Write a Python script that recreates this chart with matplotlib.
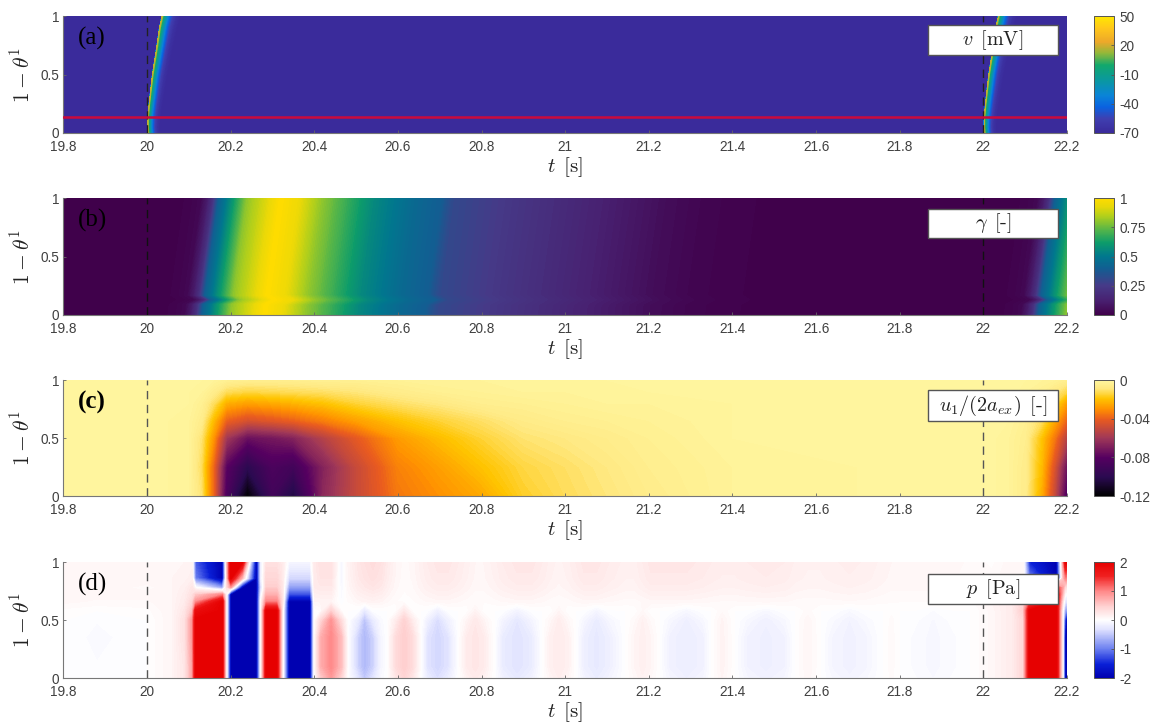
import numpy as np
import matplotlib
matplotlib.use('Agg')
import matplotlib.pyplot as plt
from matplotlib.cm import ScalarMappable
from matplotlib.colors import LinearSegmentedColormap, Normalize
from matplotlib.patches import Rectangle

plt.rcParams['font.family'] = ['Liberation Sans', 'DejaVu Sans']
plt.rcParams['mathtext.fontset'] = 'cm'
plt.rcParams['axes.unicode_minus'] = False

W, H = 1158, 724

t_ticks = [19.8, 20, 20.2, 20.4, 20.6, 20.8, 21, 21.2, 21.4, 21.6, 21.8, 22, 22.2]
t_labels = ['19.8', '20', '20.2', '20.4', '20.6', '20.8', '21', '21.2', '21.4', '21.6', '21.8', '22', '22.2']
theta_ticks = [0, 0.5, 1]
theta_labels = ['0', '0.5', '1']
beat_times = [20, 22]
line_theta = 0.135

# (a) v: activation front, arrival time per row and voltage behind the front
v_theta = [0, 0.05, 0.13, 0.25, 0.5, 0.75, 0.9, 1]
v_arrival = [20.003, 20.002, 20.002, 20.005, 20.013, 20.024, 20.03, 20.036]
v_width = [0.8, 0.8, 0.85, 0.9, 1.0, 1.1, 1.2, 1.25]
v_delay = [-0.9, -0.001, 0.0, 0.0015, 0.004, 0.008, 0.012, 0.016, 0.021, 0.027, 0.036, 0.95]
v_values = [-70, -70, 18, 6, -8, -22, -36, -48, -58, -65, -70, -70]

# (b) gamma: one time profile, rows shifted in time
g_theta = [0, 0.09, 0.13, 0.17, 0.5, 1]
g_shift = [0, 0.003, 0.024, 0.007, 0.02, 0.04]
g_t = [19.7, 20.0, 20.06, 20.09, 20.105, 20.118, 20.132, 20.15, 20.175, 20.2, 20.25, 20.28, 20.32, 20.37,
       20.43, 20.5, 20.6, 20.665, 20.69, 20.8, 20.9, 21.0, 21.1, 21.2, 21.3, 21.5,
       22.0, 22.06, 22.09, 22.105, 22.118, 22.132, 22.15, 22.175, 22.2, 22.25]
g_values = [0, 0, 0.01, 0.03, 0.1, 0.2, 0.4, 0.5, 0.65, 0.8, 0.92, 1, 0.95, 0.82,
            0.7, 0.56, 0.44, 0.39, 0.31, 0.25, 0.2, 0.15, 0.1, 0.05, 0.02, 0,
            0, 0.01, 0.03, 0.1, 0.2, 0.4, 0.5, 0.65, 0.8, 0.92]

# (c) u1/(2 a_ex)
u_theta = [0, 0.25, 0.5, 0.65, 0.8, 0.9, 1]
u_t = [19.8, 20.0, 20.1, 20.13, 20.16, 20.19, 20.24, 20.3, 20.35, 20.42, 20.5, 20.6, 20.7,
       20.8, 20.9, 21.0, 21.1, 21.2, 21.4, 22.0, 22.06, 22.1, 22.14, 22.17, 22.2]
u_rows = [
    [0, 0, -.002, -.01, -.04, -.085, -.12, -.09, -.105, -.066, -.05, -.035, -.03,
     -.025, -.016, -.012, -.009, -.006, -.002, 0, -.002, -.006, -.025, -.05, -.085],
    [0, 0, -.002, -.012, -.04, -.08, -.1, -.085, -.09, -.068, -.05, -.033, -.027,
     -.02, -.014, -.011, -.008, -.005, -.002, 0, -.002, -.006, -.022, -.045, -.075],
    [0, 0, -.002, -.01, -.03, -.06, -.075, -.072, -.068, -.055, -.042, -.028, -.021,
     -.015, -.01, -.008, -.006, -.004, -.001, 0, -.002, -.005, -.02, -.035, -.055],
    [0, 0, -.002, -.006, -.022, -.04, -.046, -.043, -.04, -.034, -.027, -.02, -.015,
     -.011, -.007, -.005, -.004, -.003, -.001, 0, -.001, -.004, -.012, -.025, -.04],
    [0, 0, -.001, -.004, -.012, -.024, -.027, -.025, -.023, -.02, -.015, -.011, -.008,
     -.005, -.004, -.003, -.002, -.002, -.001, 0, -.001, -.003, -.008, -.015, -.028],
    [0, 0, -.001, -.002, -.006, -.012, -.014, -.013, -.012, -.011, -.009, -.006, -.004,
     -.003, -.002, -.002, -.001, -.001, 0, 0, 0, -.002, -.004, -.008, -.014],
    [0, 0, 0, -.001, -.002, -.004, -.005, -.005, -.005, -.004, -.004, -.003, -.002,
     -.002, -.001, -.001, -.001, 0, 0, 0, 0, -.001, -.002, -.003, -.005],
]

# (d) p, values past +-2 saturate in the picture
p_theta = [0, 0.1, 0.35, 0.5, 0.58, 0.66, 0.72, 0.78, 0.86, 1]

# start of the beat, one row per theta
p_head_t = [19.8, 19.88, 20.0, 20.06, 20.09, 20.108, 20.116, 20.18, 20.19,
            20.2, 20.228, 20.262, 20.272, 20.285, 20.31, 20.325, 20.34, 20.39, 20.40]
p_head = [
    [0, -.03, 0, .1, .25, .8, 3, 3, 0, -3, -3, -3, 0, 3, 3, 0, -3, -3, 0],
    [0, -.03, 0, .1, .25, .8, 3, 3, 0, -3, -3, -3, 0, 3, 3, 0, -3, -3, 0],
    [0, -.05, 0, .1, .3, .9, 3, 3, 0, -3, -3, -3, 0, 3, 3, 0, -3, -3, 0],
    [0, -.03, 0, .1, .3, .9, 2.8, 3, 0, -3, -3, -3, 0, 3, 3, 0, -3, -3, 0],
    [.02, 0, .02, .1, .25, .6, 1.8, 3, 0, -3, -3, -3, 0, 2.3, 2.3, 0, -3, -3, 0],
    [.08, .06, .06, .1, .2, .4, .9, 3, 0, -3, -3, -3, 0, 1, 1, .2, -2, -2, .1],
    [.1, .08, .08, .1, .18, .3, .5, 1, 0, -3, -3, -3, -.2, .7, .7, .2, -1.3, -1.3, .15],
    [.1, .1, .05, .1, .15, .25, 0, -.8, .3, .8, -3, -3, -.4, .5, .5, .2, -.8, -.8, .2],
    [.1, .1, .1, .1, .12, .15, -1, -2.5, .3, 2.2, .6, -3, -.2, .4, .4, .2, -.4, -.4, .2],
    [.1, .1, .1, .08, .1, .12, -1.2, -3, .4, 3, 2.5, -3, -.2, .3, .3, .2, -.1, -.1, .2],
]

# decaying lobes below theta 0.6 and pale pink bumps along the top edge
p_tail_t = [20.415, 20.44, 20.465, 20.48, 20.505, 20.52, 20.54, 20.56, 20.575, 20.595, 20.615, 20.635, 20.655,
            20.67, 20.695, 20.72, 20.745, 20.765, 20.785, 20.805, 20.83, 20.85, 20.885, 20.92, 20.945,
            20.965, 20.985, 21.005, 21.025, 21.045, 21.075, 21.105, 21.145, 21.165, 21.185, 21.205, 21.225,
            21.25, 21.29, 21.33, 21.35, 21.375, 21.405, 21.435, 21.48, 21.525, 21.55, 21.58, 21.61,
            21.64, 21.68, 21.72, 21.76, 21.78, 21.8, 21.84, 21.88, 21.92, 21.97]
p_lobes = [.7, 1, .6, 0, -.45, -.6, -.45, -.1, 0, .35, .5, .35, 0,
           -.3, -.4, -.3, 0, .2, .25, .2, 0, -.22, -.3, -.22, 0,
           .15, .2, .15, 0, -.18, -.25, -.18, 0, .1, .15, .1, 0,
           -.15, -.2, -.15, 0, .12, 0, -.14, -.18, -.14, 0, .1, 0,
           -.11, -.15, -.11, 0, .05, 0, -.05, -.08, -.05, 0]
p_peak = [0, 1, 0, 0, 0, 1, 0, 0, 0, 0, 1, 0, 0,
          0, 1, 0, 0, 0, 1, 0, 0, 0, 1, 0, 0,
          0, 1, 0, 0, 0, 1, 0, 0, 0, 1, 0, 0,
          0, 1, 0, 0, 1, 0, 0, 1, 0, 0, 1, 0,
          0, 1, 0, 0, 1, 0, 0, 1, 0, 0]
p_top = [.3, .3, -.1, .1, .25, .3, .35, .3, .2, .1, .05, .08, .15,
         .2, .25, .25, .2, .15, .1, .1, .15, .2, .25, .25, .2,
         .15, .12, .15, .2, .25, .25, .2, .15, .15, .2, .25, .25,
         .25, .25, .22, .2, .18, .18, .2, .22, .2, .16, .14, .14,
         .16, .18, .16, .12, .1, .1, .1, .1, .08, .06]
p_lobe_scale = [.85, 1, 1, .9, .45, 0, 0, 0, 0, 0]
p_shoulder_scale = [.8, 1, 1, .6, .12, 0, 0, 0, 0, 0]
p_top_scale = [0, 0, 0, 0, 0, .35, .55, .75, .9, 1]

# next beat at the right edge, one row per theta
p_end_t = [22.02, 22.07, 22.095, 22.11, 22.175, 22.19, 22.196, 22.2]
p_end = [
    [.08, .2, .4, 3, 3, 0, -3, -3],
    [.08, .2, .4, 3, 3, 0, -3, -3],
    [.08, .2, .4, 3, 3, 0, -3, -3],
    [.08, .2, .4, 2.5, 3, 0, -1.5, -3],
    [.08, .2, .5, 2, 3, 0, -.8, -.8],
    [.1, .2, .4, 1.2, 3, .3, -.3, -.3],
    [.1, .2, .3, .8, 2.8, .6, 0, 0],
    [.1, .15, .25, .5, 1.5, .8, .3, .3],
    [.05, .1, .1, -1, -3, .5, 1, 1],
    [.02, .1, .1, -1.5, -3, .8, 2.5, 2.5],
]

# colour bars
v_colors = [(0, '#3a2a9a'), (0.12, '#3f3fb0'), (0.22, '#0a62e0'), (0.32, '#0a84d8'), (0.45, '#0a98a0'),
            (0.58, '#12a86c'), (0.68, '#8fb83a'), (0.78, '#eda82a'), (0.9, '#ffc81a'), (1, '#ffe800')]
g_colors = [(0, '#40004a'), (0.12, '#482070'), (0.25, '#463a88'), (0.4, '#115f92'), (0.5, '#00778e'),
            (0.62, '#0d9c6a'), (0.72, '#4fb34c'), (0.85, '#b4d01a'), (0.93, '#e8d808'), (1, '#ffdc00')]
u_colors = [(0, '#000000'), (0.16, '#2a0a50'), (0.33, '#550060'), (0.5, '#a03858'), (0.66, '#e85a20'),
            (0.75, '#ff9000'), (0.84, '#ffc400'), (0.93, '#ffe880'), (1, '#fff6a0')]
p_colors = [(0, '#0000b0'), (0.12, '#0a20d8'), (0.25, '#6c80f0'), (0.42, '#e0e2ff'), (0.5, '#ffffff'),
            (0.62, '#ffd0d0'), (0.75, '#ff8888'), (0.88, '#f02020'), (1, '#e60000')]


def px_axes(fig, x0, y0, x1, y1):
    return fig.add_axes([x0 / W, 1 - y1 / H, (x1 - x0) / W, (y1 - y0) / H])


def draw_panel(ax, cax, X, Y, Z, colors, vmin, vmax, bar_ticks, bar_labels, name, letter, box, dash, weight):
    cmap = LinearSegmentedColormap.from_list('panel', colors, N=256)
    levels = np.linspace(vmin, vmax, 121)
    ax.contourf(X, Y, np.clip(Z, vmin, vmax), levels=levels, cmap=cmap, antialiased=False)
    ax.set_xlim(19.8, 22.2)
    ax.set_ylim(0, 1)
    for t in beat_times:
        ax.plot([t, t], [0, 1], color=dash, lw=1.0, dashes=(6, 4), zorder=3)
    ax.set_xticks(t_ticks, t_labels)
    ax.set_yticks(theta_ticks, theta_labels)
    ax.tick_params(axis='x', labelsize=9.8, labelcolor='#404040', color='#666666', length=2, width=0.6, direction='in', pad=5)
    ax.tick_params(axis='y', labelsize=9.8, labelcolor='#404040', color='#666666', length=2, width=0.6, direction='in', pad=3)
    ax.set_xlabel(r'$t\ \, [\mathrm{s}]$', fontsize=15, color='#222222', labelpad=1)
    ax.set_ylabel(r'$1-\theta^1$', fontsize=15.5, color='#222222', labelpad=4)
    ax.spines['top'].set_visible(False)
    ax.spines['right'].set_visible(False)
    ax.spines['left'].set_color('#777777')
    ax.spines['bottom'].set_color('#777777')
    ax.text(0.0145, 0.81, letter, transform=ax.transAxes, family='Liberation Serif', fontsize=18,
            fontweight=weight, color='black', ha='left', va='center', zorder=6)

    # white name box
    ax.add_patch(Rectangle((box[0], box[1]), box[2], box[3], transform=ax.transAxes, facecolor='white',
                           edgecolor='#555555', lw=1.0, zorder=5))
    ax.text(box[0] + box[2] / 2, box[1] + box[3] / 2, name, transform=ax.transAxes, fontsize=14.5,
            color='#222222', ha='center', va='center', zorder=6)

    fig.colorbar(ScalarMappable(Normalize(vmin, vmax), cmap), cax=cax)
    cax.set_yticks(bar_ticks, bar_labels)
    cax.tick_params(labelsize=9.8, labelcolor='#404040', length=2, width=0.6, color='#555555', direction='in', pad=4)
    cax.minorticks_off()
    cax.spines['outline'].set_color('#555555')
    cax.spines['outline'].set_linewidth(0.7)


fig = plt.figure(figsize=(W / 100, H / 100), dpi=100)

axes_y = [(16, 133), (198, 315), (380, 496), (562, 678)]
box_x = (928 - 63.4) / 1003.6
box_w = 130 / 1003.6
boxes = [(box_x, 0.67, box_w, 0.255), (box_x, 0.655, box_w, 0.255), (box_x, 0.65, box_w, 0.26), (box_x, 0.64, box_w, 0.26)]
axs = []
caxs = []
for y0, y1 in axes_y:
    axs.append(px_axes(fig, 63.4, y0, 1067, y1))
    caxs.append(px_axes(fig, 1094, y0, 1114, y1))

# (a) both beats on one grid
beat_delay = np.array(v_delay)
v_X = np.array([np.concatenate([a + beat_delay * w, a + 2 + beat_delay * w]) for a, w in zip(v_arrival, v_width)])
v_Y = np.repeat(np.array(v_theta)[:, None], v_X.shape[1], axis=1)
v_Z = np.tile(np.array(v_values + v_values, dtype=float), (len(v_theta), 1))
draw_panel(axs[0], caxs[0], v_X, v_Y, v_Z, v_colors, -70, 50, [-70, -40, -10, 20, 50],
           ['-70', '-40', '-10', '20', '50'], r'$v\ \, [\mathrm{mV}]$', '(a)', boxes[0], '#222222', 'normal')
axs[0].axhline(line_theta, color='#cc0a3c', lw=1.8, zorder=4)

# (b)
g_X = np.array([np.array(g_t) + s for s in g_shift])
g_Y = np.repeat(np.array(g_theta)[:, None], len(g_t), axis=1)
g_Z = np.tile(np.array(g_values), (len(g_theta), 1))
draw_panel(axs[1], caxs[1], g_X, g_Y, g_Z, g_colors, 0, 1, [0, 0.25, 0.5, 0.75, 1],
           ['0', '0.25', '0.5', '0.75', '1'], r'$\gamma\ \, [\text{-}]$', '(b)', boxes[1], '#111111', 'normal')

# (c)
draw_panel(axs[2], caxs[2], u_t, u_theta, np.array(u_rows), u_colors, -0.12, 0, [-0.12, -0.08, -0.04, 0],
           ['-0.12', '-0.08', '-0.04', '0'], r'$u_1/(2a_{ex})\ \, [\text{-}]$', '(c)', boxes[2], '#555555', 'bold')

# (d) head, lobes and end joined along t, lobes get narrower near their top
p_t = p_head_t + p_tail_t + p_end_t
peak = np.array(p_peak)
p_rows = []
for i in range(len(p_theta)):
    shape = peak + p_shoulder_scale[i] * (1 - peak)
    tail = p_lobe_scale[i] * shape * np.array(p_lobes) + p_top_scale[i] * np.array(p_top)
    p_rows.append(np.concatenate([p_head[i], tail, p_end[i]]))
draw_panel(axs[3], caxs[3], p_t, p_theta, np.array(p_rows), p_colors, -2, 2, [-2, -1, 0, 1, 2],
           ['-2', '-1', '0', '1', '2'], r'$p\ \, [\mathrm{Pa}]$', '(d)', boxes[3], '#555555', 'normal')

fig.savefig('out.png', dpi=100)
